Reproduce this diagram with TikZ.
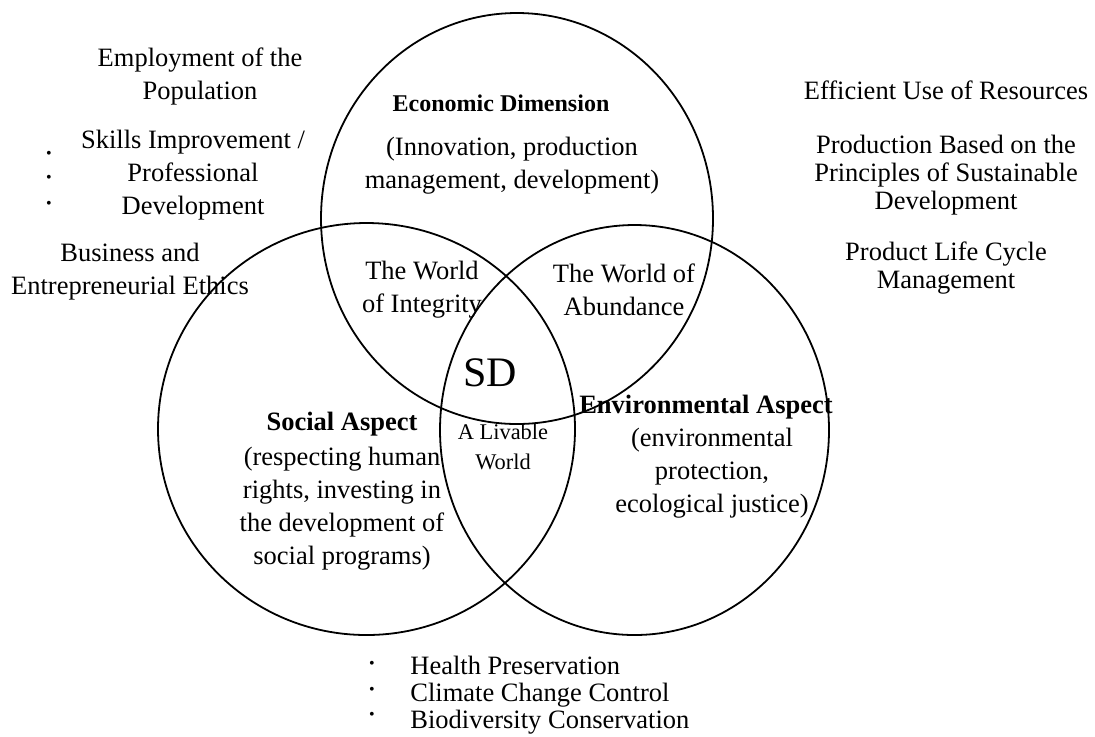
\documentclass[tikz,border=0pt]{standalone}
\usepackage{fontspec}
\setmainfont{Liberation Serif}
\usetikzlibrary{shapes.geometric, positioning}

\begin{document}
\begin{tikzpicture}[
  x=0.5pt, y=-0.5pt,
  dimen/.style={ellipse, draw, line width=0.9pt, inner sep=0pt},
  txt/.style={align=center, inner sep=0pt,
    font=\fontsize{13.25}{16.5}\selectfont},
  txtr/.style={txt, font=\fontsize{13.25}{14}\selectfont},
  ttl/.style={inner sep=0pt, font=\fontsize{13.25}{16.5}\selectfont\bfseries},
  dot/.style={inner sep=0pt, font=\fontsize{8}{8}\selectfont},
  lst/.style={anchor=west, align=left, inner sep=0pt,
    font=\fontsize{13.25}{13.5}\selectfont}
]
  \useasboundingbox (0,0) rectangle (1095,736);

  % the three dimensions
  \node[dimen, minimum width=196pt, minimum height=205.5pt] (econ) at (517,218.5) {};
  \node[dimen, minimum width=208.5pt, minimum height=206pt] (soc) at (366.5,429) {};
  \node[dimen, minimum width=194.5pt, minimum height=205pt] (env) at (634.5,430) {};

  \node[ttl, font=\fontsize{12}{14}\selectfont\bfseries] (econT) at (501,103) {Economic Dimension};
  \node[txt] (econB) at (512,166) {(Innovation, production\\management, development)};
  \node[ttl] (socT) at (342,424) {Social Aspect};
  \node[txt] (socB) at (342,509)
    {(respecting human\\rights, investing in\\the development of\\social programs)};
  \node[ttl] (envT) at (706,407) {Environmental Aspect};
  \node[txt] (envB) at (712,473) {(environmental\\protection,\\ecological justice)};

  % overlaps
  \node[txt] (integ) at (422,290) {The World\\of Integrity};
  \node[txt] (abund) at (624,290) {The World of\\Abundance};
  \node[txt, font=\fontsize{11.2}{15}\selectfont] (livab) at (503,447) {A Livable\\World};
  \node[inner sep=0pt, font=\fontsize{21}{21}\selectfont] (sd) at (490,373) {SD};

  % left side
  \node[txt] (emp) at (200,76) {Employment of the\\Population};
  \node[txt] (skill) at (193,175) {Skills Improvement /\\Professional\\Development};
  \node[txt] (ethic) at (130,272) {Business and\\Entrepreneurial Ethics};
  \node[dot] (b1) at (49,155) {\textbullet};
  \node[dot] (b2) at (49,179) {\textbullet};
  \node[dot] (b3) at (49,205) {\textbullet};

  % right side
  \node[txtr] (effic) at (946,90) {Efficient Use of Resources};
  \node[txtr] (prod) at (946,175) {Production Based on the\\Principles of Sustainable\\Development};
  \node[txtr] (plc) at (946,268) {Product Life Cycle\\Management};

  % bottom list
  \node[lst] (eco) at (410,695) {Health Preservation\\Climate Change Control\\Biodiversity Conservation};
  \node[dot] (b4) at (372,665) {\textbullet};
  \node[dot] (b5) at (372,691) {\textbullet};
  \node[dot] (b6) at (372,716) {\textbullet};
\end{tikzpicture}
\end{document}
